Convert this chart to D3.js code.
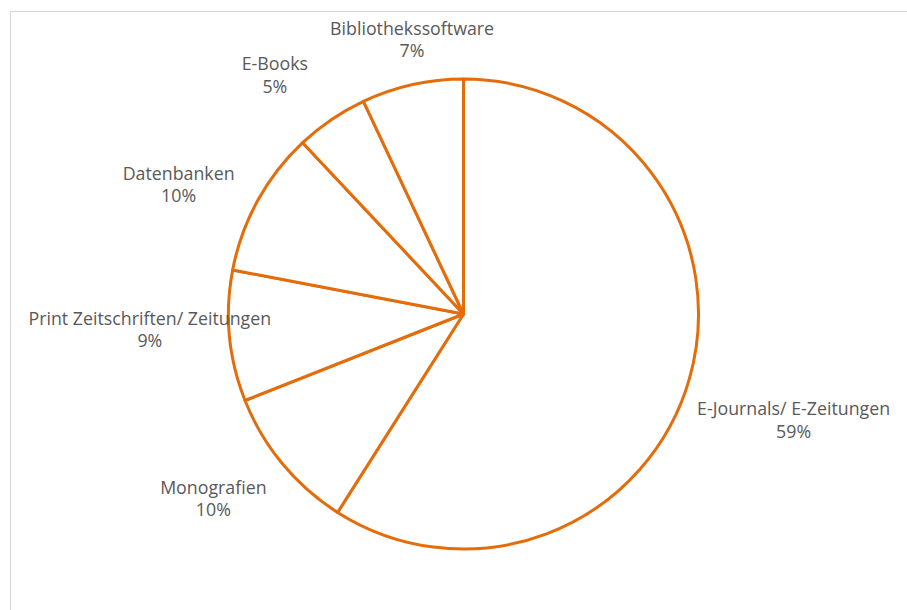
<!DOCTYPE html>
<html>
<head>
<meta charset="utf-8">
<script src="https://cdn.jsdelivr.net/npm/d3@7"></script>
<style>
  html, body { margin: 0; padding: 0; background: #ffffff; }
  svg { display: block; }
  text { font-family: "Open Sans", "Noto Sans", sans-serif; fill: #595959; }
</style>
</head>
<body>
<svg id="chart" width="907" height="610"></svg>
<script>
// Share of spending per media type (percent), in clockwise order from 12 o'clock
const categories = [
  "E-Journals/ E-Zeitungen",
  "Monografien",
  "Print Zeitschriften/ Zeitungen",
  "Datenbanken",
  "E-Books",
  "Bibliothekssoftware"
];
const shares = [59, 10, 9, 10, 5, 7];

// Label placement: offset of each label block from the point on a ring around the pie
const labelNudge = [[42, 22], [-19, -7], [-15, -13], [-22, 15], [-20, 9], [14, 18]];

const W = 907, H = 610;
const cx = 463.5, cy = 314, radius = 235, labelRing = 300;
const orange = "#E46C0A";

const svg = d3.select("#chart");

// chart area frame
svg.append("rect")
  .attr("x", 10.5).attr("y", 11.5)
  .attr("width", W + 20).attr("height", H + 20)
  .attr("fill", "#ffffff")
  .attr("stroke", "#d9d9d9")
  .attr("stroke-width", 1.2);

const data = categories.map((c, i) => ({ name: c, value: shares[i], nudge: labelNudge[i] }));

const pie = d3.pie().value(d => d.value).sort(null);
const arcs = pie(data);

const arc = d3.arc().innerRadius(0).outerRadius(radius);
const ring = d3.arc().innerRadius(labelRing).outerRadius(labelRing);

const g = svg.append("g").attr("transform", `translate(${cx},${cy})`);

g.selectAll("path.slice")
  .data(arcs)
  .join("path")
  .attr("class", "slice")
  .attr("d", arc)
  .attr("fill", "#ffffff")
  .attr("stroke", orange)
  .attr("stroke-width", 3)
  .attr("stroke-linejoin", "round");

const fontSize = 17.8, lineGap = 22.7;

const labels = g.selectAll("text.label")
  .data(arcs)
  .join("text")
  .attr("class", "label")
  .attr("text-anchor", "middle")
  .style("font-size", fontSize + "px")
  .attr("transform", d => {
    const [x, y] = ring.centroid(d);
    return `translate(${x + d.data.nudge[0]},${y + d.data.nudge[1]})`;
  });

labels.append("tspan")
  .attr("x", 0)
  .attr("y", -4.7)
  .text(d => d.data.name);

labels.append("tspan")
  .attr("x", 0)
  .attr("y", -4.7 + lineGap)
  .text(d => d3.format(".0f")(d.data.value) + "%");
</script>
</body>
</html>
